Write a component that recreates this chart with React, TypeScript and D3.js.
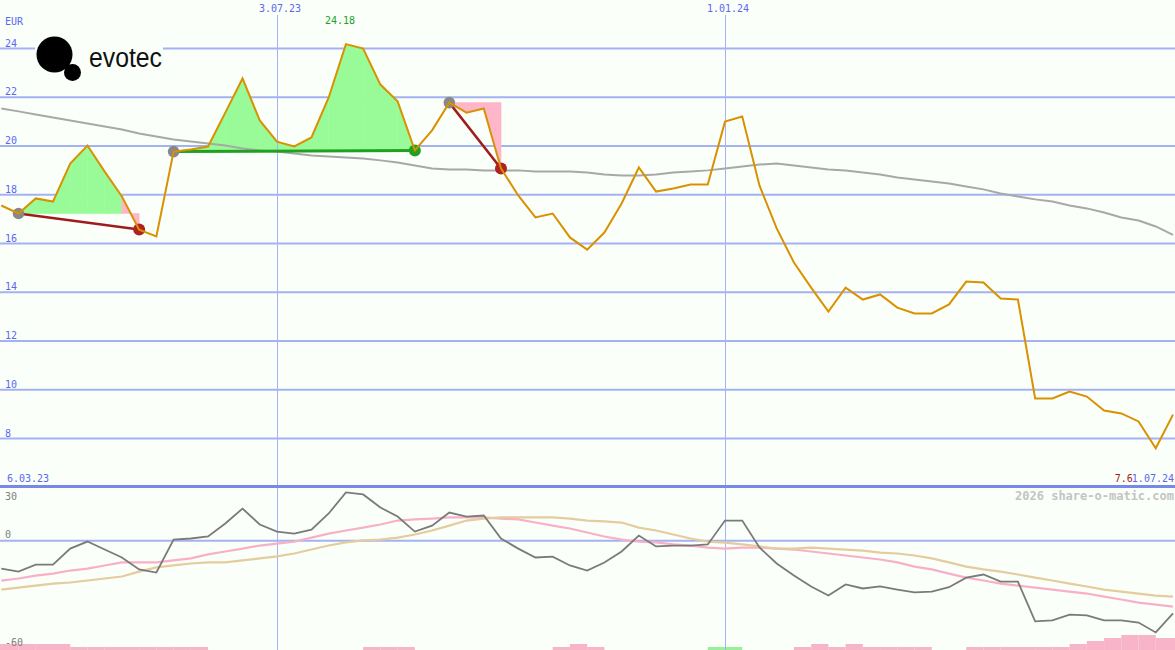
import React from 'react';
import * as d3 from 'd3';

const W = 1175;
const H = 650;

// weekly closing prices (EUR)
const price = [
  17.56, 17.23, 17.85, 17.72, 19.28, 20.02, 18.95, 17.93, 16.57, 16.29,
  19.77, 19.86, 19.98, 21.37, 22.77, 21.05, 20.18, 19.98, 20.35, 21.99,
  24.18, 24.0, 22.52, 21.83, 19.82, 20.64, 21.78, 21.37, 21.54, 19.08,
  17.97, 17.07, 17.23, 16.25, 15.75, 16.45, 17.64, 19.12, 18.13, 18.26,
  18.42, 18.42, 21.0, 21.21, 18.38, 16.62, 15.22, 14.19, 13.21, 14.19,
  13.7, 13.91, 13.37, 13.13, 13.13, 13.5, 14.44, 14.4, 13.74, 13.7,
  9.64, 9.64, 9.93, 9.72, 9.15, 9.03, 8.7, 7.6, 8.98,
];

// long moving average (EUR)
const movingAvg = [
  21.54, 21.42, 21.29, 21.17, 21.05, 20.92, 20.8, 20.68, 20.51, 20.39,
  20.27, 20.18, 20.1, 20.02, 19.9, 19.82, 19.77, 19.69, 19.61, 19.57,
  19.53, 19.49, 19.41, 19.32, 19.2, 19.08, 19.04, 19.04, 19.0, 19.0,
  19.0, 18.95, 18.95, 18.95, 18.91, 18.83, 18.79, 18.79, 18.83, 18.91,
  18.95, 19.0, 19.08, 19.16, 19.24, 19.28, 19.2, 19.12, 19.04, 18.99,
  18.91, 18.83, 18.71, 18.63, 18.54, 18.46, 18.34, 18.22, 18.05, 17.93,
  17.81, 17.72, 17.56, 17.44, 17.27, 17.07, 16.94, 16.7, 16.35,
];

// lower panel: oscillator (gray), signal (pink), slow signal (tan)
const oscGray = [
  -15.3, -17.0, -13.1, -13.1, -4.3, -0.4, -4.8, -9.2, -15.8, -17.5,
  0.7, 1.3, 2.4, 9.6, 17.8, 9.0, 5.1, 4.0, 6.2, 15.1,
  26.7, 25.6, 18.4, 13.4, 5.1, 8.4, 15.6, 13.4, 14.0, 1.3,
  -4.3, -9.2, -8.7, -13.6, -16.4, -12.0, -5.9, 2.9, -3.1, -2.6,
  -2.6, -2.0, 11.2, 11.2, -3.7, -12.5, -19.1, -25.2, -30.2, -24.1,
  -26.3, -25.2, -26.9, -28.5, -28.0, -25.6, -20.3, -18.6, -22.5, -22.5,
  -44.5, -43.9, -40.7, -41.2, -43.9, -43.9, -45.1, -50.6, -40.1,
];
const oscPink = [
  -22.0, -20.8, -19.2, -18.1, -16.4, -15.3, -13.6, -11.9, -11.9, -11.9,
  -10.8, -9.7, -7.5, -5.9, -4.3, -2.6, -1.5, -0.4, 1.8, 4.0,
  5.7, 7.3, 9.0, 11.2, 11.8, 12.3, 12.9, 12.9, 12.9, 12.3,
  11.8, 10.1, 8.4, 6.8, 4.6, 2.4, 0.7, -0.4, -0.9, -2.0,
  -2.6, -3.7, -4.3, -3.7, -3.7, -4.3, -4.8, -5.9, -7.0, -8.1,
  -9.2, -10.3, -11.9, -14.2, -15.8, -18.1, -20.3, -21.9, -23.6, -24.7,
  -25.8, -26.9, -28.0, -29.1, -30.8, -32.4, -34.1, -35.2, -36.3,
];
const oscTan = [
  -26.9, -25.8, -24.7, -23.6, -23.0, -21.9, -20.8, -19.7, -17.0, -14.7,
  -13.6, -12.5, -11.9, -11.9, -10.8, -9.7, -8.6, -7.0, -4.8, -2.6,
  -0.9, 0.2, 0.7, 1.8, 3.5, 5.7, 8.4, 11.2, 12.3, 12.9,
  12.9, 12.9, 12.9, 12.3, 11.2, 10.7, 10.1, 7.3, 5.7, 3.5,
  1.3, -0.4, -1.0, -2.0, -3.1, -4.3, -4.3, -3.7, -4.3, -4.8,
  -5.4, -6.5, -7.0, -8.1, -9.7, -11.9, -14.2, -15.8, -17.0, -18.6,
  -20.3, -21.9, -23.6, -25.2, -26.9, -28.0, -29.1, -30.2, -30.8,
];

// bottom indicator bars (steps), green weeks marked separately
const barUnits = [
  2, 2, 2, 2, 1, 1, 1, 1, 1, 1,
  1, 1, 0, 0, 0, 0, 0, 0, 0, 0,
  0, 1, 1, 1, 0, 0, 0, 0, 0, 0,
  0, 0, 1, 2, 1, 0, 0, 0, 0, 0,
  0, 1, 1, 0, 0, 0, 1, 2, 1, 2,
  1, 1, 1, 1, 0, 0, 1, 1, 1, 1,
  1, 1, 2, 3, 4, 5, 5, 4, 4,
];
const greenBars = [41, 42];

// trades: entry week index -> exit week index
const trades = [
  { entry: 1, exit: 8 },
  { entry: 10, exit: 24 },
  { entry: 26, exit: 29 },
];

const priceTicks = [24, 22, 20, 18, 16, 14, 12, 10, 8];
const lowerTicks = [30, 0, -60];
const dateTickIdx = [16, 42];
const dateTickLabels = ['3.07.23', '1.01.24'];
const firstDateLabel = '6.03.23';
const lastDateLabel = '1.07.24';
const maxIdx = 20;
const maxLabel = '24.18';
const minIdx = 67;
const minLabel = '7.6';
const currency = 'EUR';
const watermark = '2026 share-o-matic.com';

const C = {
  bg: '#fafffa',
  grid: '#a4b2f2',
  sep: '#7888e6',
  label: '#5a68f0',
  price: '#d99100',
  ma: '#a8a8a8',
  green: '#98fb98',
  pink: '#ffb6c8',
  tradeRed: '#a01c1c',
  dotRed: '#b02222',
  tradeGreen: '#22a022',
  dotGray: '#888888',
  osc: '#7a7a7a',
  oscPink: '#f8b0c8',
  oscTan: '#e4cc9c',
  bar: '#f8b4c8',
  barGreen: '#98f098',
  lowLabel: '#808080',
  wm: '#c4c4c4',
};

const MONO = '"DejaVu Sans Mono", monospace';

export default function App() {
  const n = price.length;
  const x = d3.scaleLinear().domain([0, n - 1]).range([1.3, 1173]);
  const y = d3.scaleLinear().domain([8, 24]).range([438.5, 48.5]);
  const yl = d3.scaleLinear().domain([-60, 30]).range([649.5, 486.5]);

  const priceLine = d3.line<number>().x((_, i) => x(i)).y((d) => y(d));
  const lowLine = d3.line<number>().x((_, i) => x(i)).y((d) => yl(d));
  const poly = d3.line<[number, number]>().x((d) => d[0]).y((d) => d[1]);

  const fills: { d: string; c: string }[] = [];
  trades.forEach((t) => {
    const base = price[t.entry];
    for (let k = t.entry; k < t.exit; k++) {
      const pts: [number, number][] = [
        [x(k), y(base)],
        [x(k), y(price[k])],
        [x(k + 1), y(price[k + 1])],
        [x(k + 1), y(base)],
      ];
      fills.push({ d: poly(pts) + 'Z', c: price[k + 1] >= base ? C.green : C.pink });
    }
  });

  return (
    <svg
      width={W}
      height={H}
      style={{ position: 'absolute', left: 0, top: 0, display: 'block' }}
      xmlns="http://www.w3.org/2000/svg"
    >
      <rect x={0} y={0} width={W} height={H} fill={C.bg} />

      {/* horizontal grid */}
      {priceTicks.map((v) => (
        <line key={'g' + v} x1={0} x2={W} y1={y(v)} y2={y(v)} stroke={C.grid} strokeWidth={2} />
      ))}
      <line x1={0} x2={W} y1={yl(0)} y2={yl(0)} stroke={C.grid} strokeWidth={2} />

      {/* bottom bars */}
      {barUnits.map((u, k) =>
        u > 0 ? (
          <rect
            key={'b' + k}
            x={k === 0 ? 0 : x(k)}
            width={Math.min(x(k + 1), W) - (k === 0 ? 0 : x(k))}
            y={H - u * 3}
            height={u * 3}
            fill={greenBars.includes(k) ? C.barGreen : C.bar}
          />
        ) : null
      )}

      {/* trade fills */}
      {fills.map((f, i) => (
        <path key={'f' + i} d={f.d} fill={f.c} stroke={f.c} strokeWidth={0.6} />
      ))}

      {/* vertical date grid */}
      {dateTickIdx.map((i) => (
        <line key={'v' + i} x1={Math.round(x(i)) + 0.5} x2={Math.round(x(i)) + 0.5} y1={15} y2={H} stroke={C.grid} strokeWidth={1} />
      ))}

      {/* separator */}
      <line x1={0} x2={W} y1={yl(30)} y2={yl(30)} stroke={C.sep} strokeWidth={3} />

      {/* moving average */}
      <path d={priceLine(movingAvg) || ''} fill="none" stroke={C.ma} strokeWidth={2} />

      {/* lower panel lines */}
      <path d={lowLine(oscPink) || ''} fill="none" stroke={C.oscPink} strokeWidth={2.2} />
      <path d={lowLine(oscTan) || ''} fill="none" stroke={C.oscTan} strokeWidth={2.2} />
      <path d={lowLine(oscGray) || ''} fill="none" stroke={C.osc} strokeWidth={1.8} />

      {/* trade lines */}
      {trades.map((t, i) => {
        const win = price[t.exit] >= price[t.entry];
        return (
          <line
            key={'t' + i}
            x1={x(t.entry)}
            y1={y(price[t.entry])}
            x2={x(t.exit)}
            y2={y(price[t.exit])}
            stroke={win ? C.tradeGreen : C.tradeRed}
            strokeWidth={win ? 3 : 2.5}
          />
        );
      })}
      {trades.map((t, i) => {
        const win = price[t.exit] >= price[t.entry];
        return (
          <g key={'d' + i}>
            <circle cx={x(t.entry)} cy={y(price[t.entry])} r={5.8} fill={C.dotGray} />
            <circle cx={x(t.exit)} cy={y(price[t.exit])} r={6} fill={win ? C.tradeGreen : C.dotRed} />
          </g>
        );
      })}

      {/* price line */}
      <path d={priceLine(price) || ''} fill="none" stroke={C.price} strokeWidth={2} strokeLinejoin="miter" />

      {/* labels */}
      <g fontFamily={MONO} fontSize={10}>
        <text x={5} y={25} fill={C.label}>{currency}</text>
        {priceTicks.map((v) => (
          <text key={'l' + v} x={5} y={y(v) - 2} fill={C.label}>{v}</text>
        ))}
        {dateTickIdx.map((i, j) => (
          <text key={'dl' + i} x={x(i) + 3} y={12} fill={C.label} textAnchor="middle">{dateTickLabels[j]}</text>
        ))}
        <text x={x(maxIdx) - 21} y={24} fill={C.tradeGreen}>{maxLabel}</text>
        <text x={7} y={482} fill={C.label}>{firstDateLabel}</text>
        <text x={1174} y={482} fill={C.label} textAnchor="end">{lastDateLabel}</text>
        <text x={x(minIdx) - 41} y={482} fill={C.tradeRed}>{minLabel}</text>
        <text x={5} y={yl(30) + 13.5} fill={C.lowLabel}>{lowerTicks[0]}</text>
        <text x={5} y={yl(0) - 2.5} fill={C.lowLabel}>{lowerTicks[1]}</text>
        <text x={5} y={yl(-60) - 3.5} fill={C.lowLabel}>{lowerTicks[2]}</text>
      </g>
      <text x={1174} y={500} fill={C.wm} fontFamily={MONO} fontSize={12} fontWeight="bold" textAnchor="end">
        {watermark}
      </text>

      {/* logo */}
      <g>
        <rect x={35} y={33} width={128} height={50} fill={C.bg} />
        <circle cx={54.5} cy={54.5} r={18} fill="#000" />
        <circle cx={72.5} cy={72.5} r={8.5} fill="#000" />
        <text x={89} y={67} fontFamily='"Liberation Sans", Arial, sans-serif' fontSize={27} fill="#111" textLength={73} lengthAdjust="spacingAndGlyphs">
          evotec
        </text>
      </g>
    </svg>
  );
}
